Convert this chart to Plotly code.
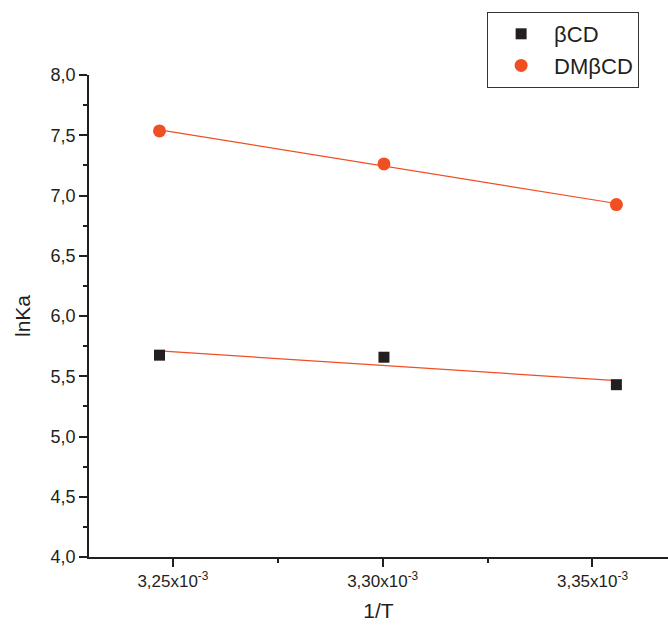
import numpy as np
import plotly.graph_objects as go

inv_T = [3.2468e-3, 3.3003e-3, 3.3557e-3]
lnKa_bCD = [5.675, 5.658, 5.43]
lnKa_DMbCD = [7.536, 7.262, 6.925]

x_tickvals = [3.25e-3, 3.30e-3, 3.35e-3]
x_ticktext = ["3,25x10<sup>-3</sup>", "3,30x10<sup>-3</sup>", "3,35x10<sup>-3</sup>"]
y_tickvals = [4.0, 4.5, 5.0, 5.5, 6.0, 6.5, 7.0, 7.5, 8.0]
y_ticktext = ["4,0", "4,5", "5,0", "5,5", "6,0", "6,5", "7,0", "7,5", "8,0"]

black = "#231f20"
orange = "#f04e23"

xa = np.array(inv_T)
fit1 = np.polyfit(xa, lnKa_bCD, 1)
fit2 = np.polyfit(xa, lnKa_DMbCD, 1)
xl = [inv_T[0], inv_T[-1]]

fig = go.Figure()
fig.add_trace(go.Scatter(x=xl, y=list(np.polyval(fit1, xl)), mode="lines",
                         line=dict(color=orange, width=1.2), showlegend=False))
fig.add_trace(go.Scatter(x=xl, y=list(np.polyval(fit2, xl)), mode="lines",
                         line=dict(color=orange, width=1.2), showlegend=False))
fig.add_trace(go.Scatter(x=inv_T, y=lnKa_bCD, mode="markers", name="βCD",
                         marker=dict(symbol="square", size=11, color=black)))
fig.add_trace(go.Scatter(x=inv_T, y=lnKa_DMbCD, mode="markers", name="DMβCD",
                         marker=dict(symbol="circle", size=13, color=orange)))

font = "Liberation Sans, Arial, sans-serif"
fig.update_layout(
    width=668, height=632,
    margin=dict(l=89, r=0, t=75, b=75),
    plot_bgcolor="white", paper_bgcolor="white",
    font=dict(family=font, color=black),
    showlegend=True,
    legend=dict(x=0.6876, y=1.1307, xanchor="left", yanchor="top",
                bordercolor="#333333", borderwidth=1, bgcolor="white",
                font=dict(size=22, family=font, color=black),
                itemwidth=56, tracegroupgap=0),
    xaxis=dict(range=[3.23e-3, 3.368e-3], showgrid=False, zeroline=False,
               showline=True, linecolor=black, linewidth=1.5,
               ticks="outside", ticklen=8, tickwidth=1.5, tickcolor=black,
               tickvals=x_tickvals, ticktext=x_ticktext,
               tickfont=dict(size=17, family=font, color=black),
               minor=dict(dtick=0.025e-3, tick0=3.225e-3, ticks="outside",
                          ticklen=4, tickwidth=1.5, tickcolor=black),
               title=dict(text="1/T", font=dict(size=21, family=font, color=black),
                          standoff=13)),
    yaxis=dict(range=[4, 8], showgrid=False, zeroline=False,
               showline=True, linecolor=black, linewidth=1.5,
               ticks="outside", ticklen=8, tickwidth=1.5, tickcolor=black,
               tickvals=y_tickvals, ticktext=y_ticktext,
               tickfont=dict(size=18, family=font, color=black),
               minor=dict(dtick=0.25, tick0=4, ticks="outside",
                          ticklen=4, tickwidth=1.5, tickcolor=black),
               title=dict(text="lnKa", font=dict(size=21, family=font, color=black),
                          standoff=14)),
)

fig.write_html("out.html")
